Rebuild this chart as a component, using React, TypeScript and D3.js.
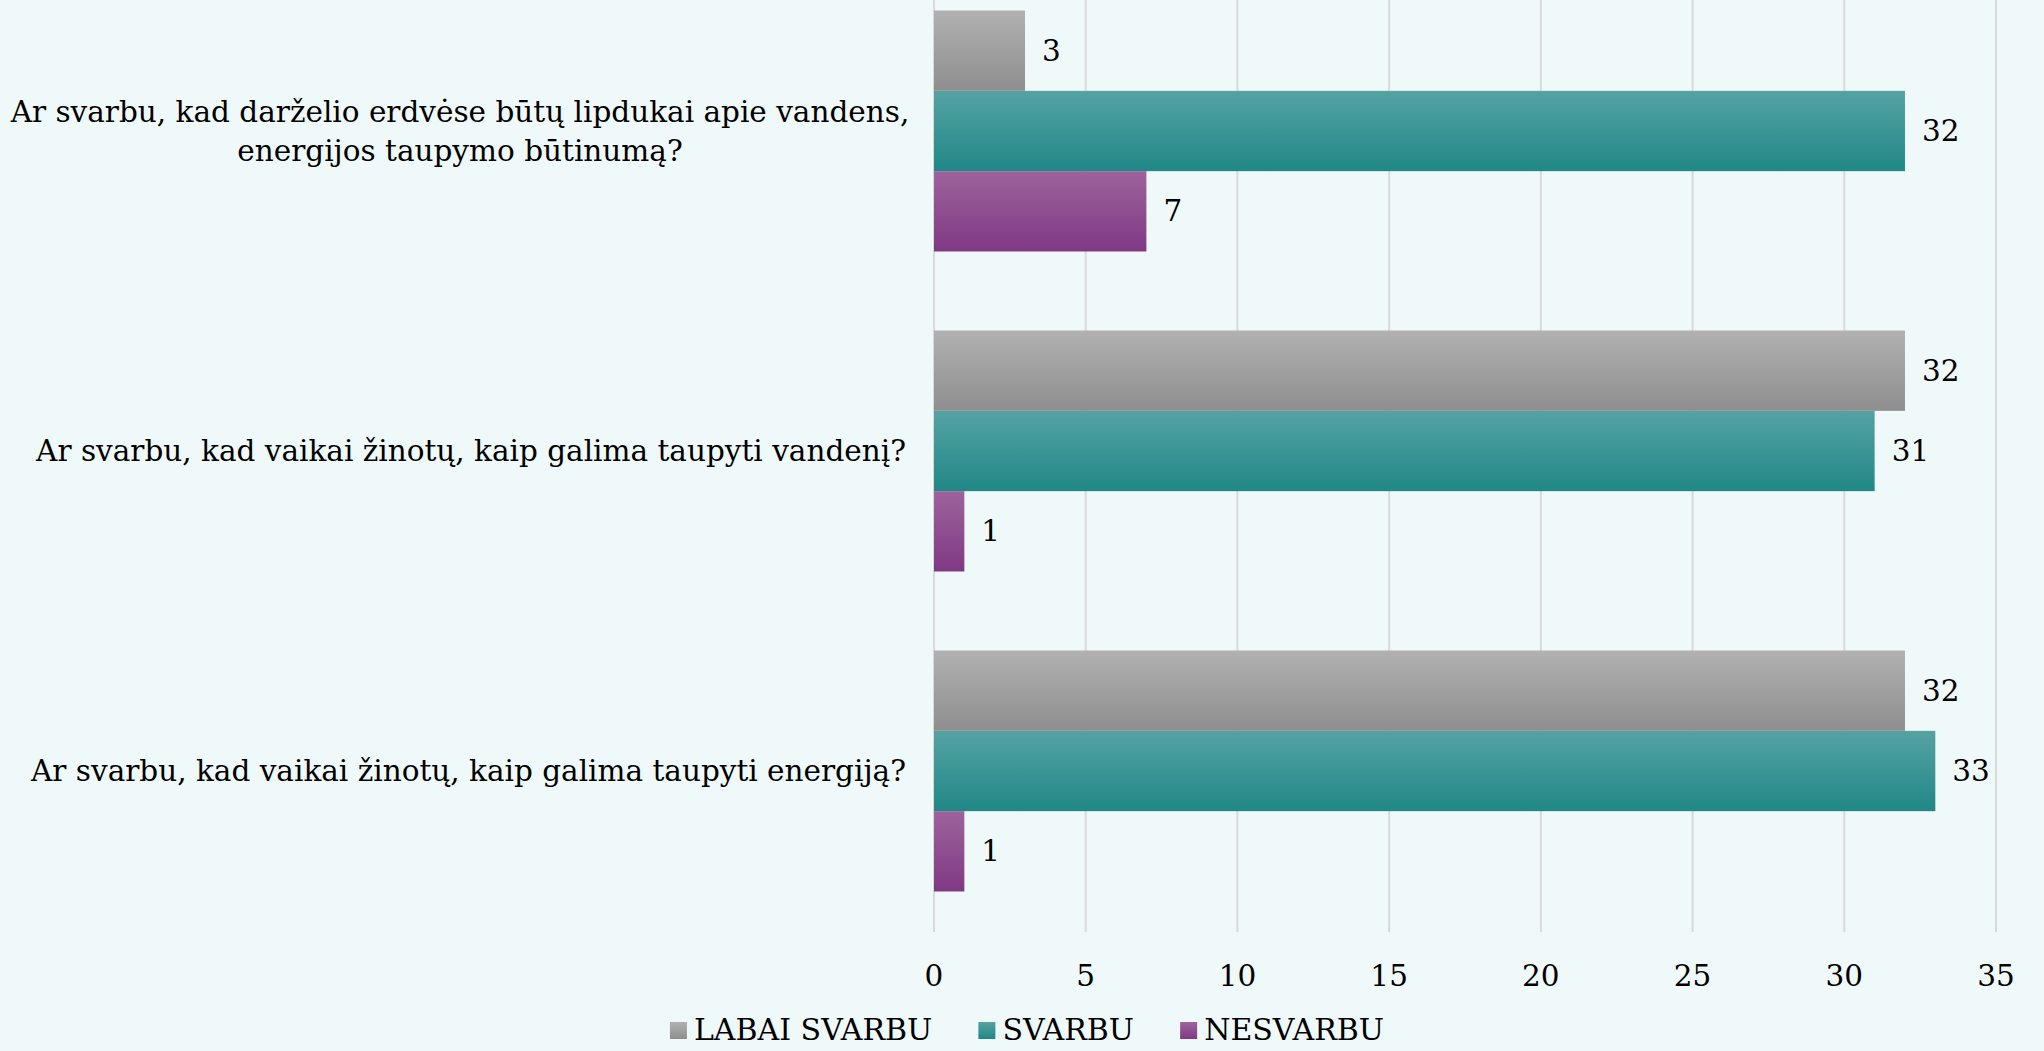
import React, { useEffect, useRef } from "react";
import * as d3 from "d3";

const categories = [
  ["Ar svarbu, kad darželio erdvėse būtų lipdukai apie vandens,", "energijos taupymo būtinumą?"],
  ["Ar svarbu, kad vaikai žinotų, kaip galima taupyti vandenį?"],
  ["Ar svarbu, kad vaikai žinotų, kaip galima taupyti energiją?"],
];
const seriesNames = ["LABAI SVARBU", "SVARBU", "NESVARBU"];
const labaiSvarbu = [3, 32, 32];
const svarbu = [32, 31, 33];
const nesvarbu = [7, 1, 1];
const xTicks = [0, 5, 10, 15, 20, 25, 30, 35];

const gradients = [
  { id: "gGray", top: "#b1b1b1", bottom: "#8e8e8e" },
  { id: "gTeal", top: "#56a2a2", bottom: "#218787" },
  { id: "gPurple", top: "#9d639c", bottom: "#7f3984" },
];

const W = 2044;
const H = 1051;
const FONT = "'DejaVu Serif', 'Liberation Serif', serif";
const FS = 29.5;

export default function App() {
  const ref = useRef<SVGSVGElement | null>(null);

  useEffect(() => {
    document.body.style.margin = "0";
    const svg = d3.select(ref.current);
    svg.selectAll("*").remove();

    const values = [labaiSvarbu, svarbu, nesvarbu];
    const x = d3.scaleLinear().domain([0, 35]).range([934, 1996]);
    const catIdx = categories.map((_, i) => String(i));
    const y = d3.scaleBand().domain(catIdx).range([-29, 931]).paddingInner(0.247).paddingOuter(0.1235);
    const ySub = d3.scaleBand().domain(seriesNames).range([0, y.bandwidth()]);

    svg.append("rect").attr("width", W).attr("height", H).attr("fill", "#f0f9fa");

    const defs = svg.append("defs");
    gradients.forEach((g) => {
      const lg = defs.append("linearGradient").attr("id", g.id).attr("x1", 0).attr("y1", 0).attr("x2", 0).attr("y2", 1);
      lg.append("stop").attr("offset", "0%").attr("stop-color", g.top);
      lg.append("stop").attr("offset", "100%").attr("stop-color", g.bottom);
    });

    // gridlines
    svg.append("g").selectAll("line").data(xTicks).join("line")
      .attr("x1", (d) => x(d)).attr("x2", (d) => x(d))
      .attr("y1", 0).attr("y2", 932)
      .attr("stroke", "#d9d9d9").attr("stroke-width", 2);

    // tick labels
    svg.append("g").selectAll("text").data(xTicks).join("text")
      .attr("x", (d) => x(d)).attr("y", 976)
      .attr("text-anchor", "middle").attr("dominant-baseline", "central")
      .attr("font-family", FONT).attr("font-size", FS).attr("fill", "#000")
      .text((d) => d);

    // bars
    seriesNames.forEach((s, si) => {
      const g = svg.append("g");
      values[si].forEach((v, ci) => {
        const y0 = (y(String(ci)) as number) + (ySub(s) as number);
        g.append("rect")
          .attr("x", x(0)).attr("y", y0)
          .attr("width", x(v) - x(0)).attr("height", ySub.bandwidth())
          .attr("fill", `url(#${gradients[si].id})`);
        g.append("text")
          .attr("x", x(v) + 17).attr("y", y0 + ySub.bandwidth() / 2)
          .attr("dominant-baseline", "central")
          .attr("font-family", FONT).attr("font-size", FS).attr("fill", "#000")
          .text(v);
      });
    });

    // category labels
    categories.forEach((lines, ci) => {
      const cy = (y(String(ci)) as number) + y.bandwidth() / 2;
      const lh = 39;
      const t = svg.append("text")
        .attr("font-family", FONT).attr("font-size", FS).attr("fill", "#000");
      if (lines.length === 1) {
        t.append("tspan").attr("x", 906).attr("y", cy).attr("text-anchor", "end")
          .attr("dominant-baseline", "central").text(lines[0]);
      } else {
        lines.forEach((ln, li) => {
          t.append("tspan").attr("x", 460).attr("y", cy + (li - (lines.length - 1) / 2) * lh)
            .attr("text-anchor", "middle").attr("dominant-baseline", "central").text(ln);
        });
      }
    });

    // legend
    const leg = svg.append("g");
    const items: { g: any; w: number }[] = [];
    seriesNames.forEach((s, si) => {
      const g = leg.append("g");
      g.append("rect").attr("x", 0).attr("y", -7).attr("width", 17).attr("height", 17)
        .attr("fill", `url(#${gradients[si].id})`);
      const tx = g.append("text").attr("x", 24).attr("y", 0).attr("dominant-baseline", "central")
        .attr("font-family", FONT).attr("font-size", 30).attr("fill", "#000").text(s);
      const w = 24 + (tx.node() as SVGTextElement).getComputedTextLength();
      items.push({ g, w });
    });
    const gap = 46;
    const total = d3.sum(items, (d) => d.w) + gap * (items.length - 1);
    let cx = 1027 - total / 2;
    items.forEach((it) => {
      it.g.attr("transform", `translate(${cx},1029)`);
      cx += it.w + gap;
    });
  }, []);

  return <svg ref={ref} width={W} height={H} style={{ display: "block" }} />;
}
